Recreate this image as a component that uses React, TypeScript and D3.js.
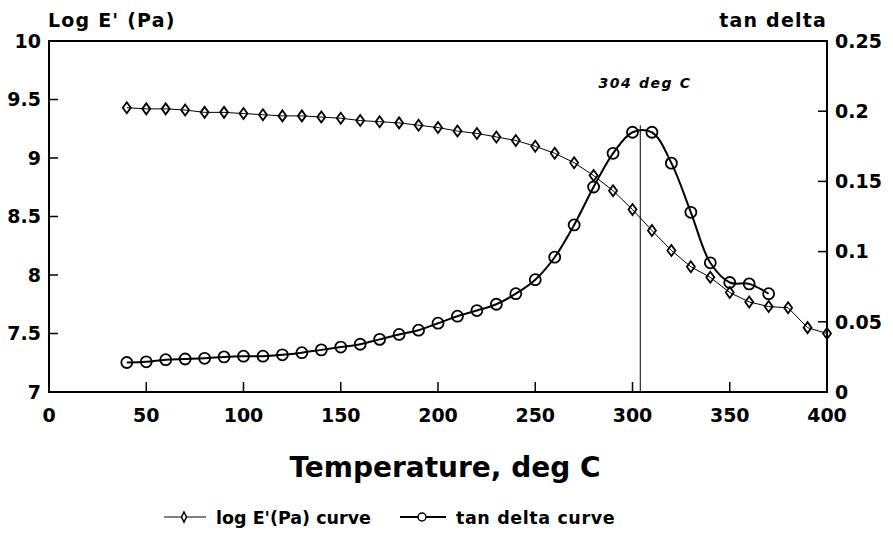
import React from "react";
import * as d3 from "d3";

// Storage modulus (log E', Pa) sampled every 10 deg C
const modTemps = [40, 50, 60, 70, 80, 90, 100, 110, 120, 130, 140, 150, 160, 170, 180, 190, 200, 210, 220, 230, 240, 250, 260, 270, 280, 290, 300, 310, 320, 330, 340, 350, 360, 370, 380, 390, 400];
const logE = [9.43, 9.42, 9.42, 9.41, 9.39, 9.39, 9.38, 9.37, 9.36, 9.36, 9.35, 9.34, 9.32, 9.31, 9.3, 9.28, 9.26, 9.23, 9.21, 9.18, 9.15, 9.1, 9.04, 8.96, 8.85, 8.72, 8.56, 8.38, 8.21, 8.07, 7.98, 7.85, 7.77, 7.73, 7.72, 7.55, 7.5];

// Loss tangent
const tanTemps = [40, 50, 60, 70, 80, 90, 100, 110, 120, 130, 140, 150, 160, 170, 180, 190, 200, 210, 220, 230, 240, 250, 260, 270, 280, 290, 300, 310, 320, 330, 340, 350, 360, 370];
const tanDelta = [0.021, 0.0215, 0.023, 0.0235, 0.024, 0.025, 0.0255, 0.0255, 0.0265, 0.028, 0.03, 0.032, 0.034, 0.0375, 0.041, 0.044, 0.049, 0.054, 0.058, 0.0625, 0.07, 0.08, 0.096, 0.119, 0.146, 0.17, 0.185, 0.185, 0.163, 0.128, 0.092, 0.078, 0.077, 0.07];

const xTicks = [0, 50, 100, 150, 200, 250, 300, 350, 400];
const leftTicks = [7, 7.5, 8, 8.5, 9, 9.5, 10];
const rightTicks = [0, 0.05, 0.1, 0.15, 0.2, 0.25];
const peakTemp = 304;
const peakTan = 0.19;

const W = 893;
const H = 540;
const M = { left: 49, right: 827, top: 41, bottom: 392 };
const FONT = "'DejaVu Sans', Verdana, sans-serif";

export default function App() {
  const x = d3.scaleLinear().domain([0, 400]).range([M.left, M.right]);
  const yL = d3.scaleLinear().domain([7, 10]).range([M.bottom, M.top]);
  const yR = d3.scaleLinear().domain([0, 0.25]).range([M.bottom, M.top]);

  const modPts: [number, number][] = modTemps.map((t, i) => [x(t), yL(logE[i])]);
  const tanPts: [number, number][] = tanTemps.map((t, i) => [x(t), yR(tanDelta[i])]);

  const modLine = d3.line().curve(d3.curveLinear)(modPts) || "";
  const tanLine = d3.line().curve(d3.curveCatmullRom.alpha(0.5))(tanPts) || "";

  const diamond = (cx: number, cy: number, w: number, h: number) =>
    `M${cx},${cy - h / 2}L${cx + w / 2},${cy}L${cx},${cy + h / 2}L${cx - w / 2},${cy}Z`;

  const fmtL = (v: number) => (Number.isInteger(v) ? String(v) : v.toFixed(1));
  const fmtR = (v: number) => (v === 0 ? "0" : String(v));

  return (
    <div style={{ position: "absolute", left: 0, top: 0 }}>
      <svg width={W} height={H} style={{ display: "block", background: "#fff" }} fontFamily={FONT}>
        {/* frame */}
        <rect x={M.left} y={M.top} width={M.right - M.left} height={M.bottom - M.top} fill="none" stroke="#000" strokeWidth={2} />

        {/* left axis ticks */}
        {leftTicks.map((v) => (
          <g key={"l" + v}>
            {v !== 7 && v !== 10 && <line x1={M.left} x2={M.left + 9} y1={yL(v)} y2={yL(v)} stroke="#000" strokeWidth={1.5} />}
            <text x={41} y={yL(v)} dy="0.36em" textAnchor="end" fontSize={19} fontWeight="bold">{fmtL(v)}</text>
          </g>
        ))}

        {/* right axis ticks */}
        {rightTicks.map((v) => (
          <g key={"r" + v}>
            {v !== 0 && v !== 0.25 && <line x1={M.right - 9} x2={M.right} y1={yR(v)} y2={yR(v)} stroke="#000" strokeWidth={1.5} />}
            <text x={835} y={yR(v)} dy="0.36em" textAnchor="start" fontSize={19} fontWeight="bold">{fmtR(v)}</text>
          </g>
        ))}

        {/* bottom axis ticks */}
        {xTicks.map((v) => (
          <g key={"x" + v}>
            {v !== 0 && v !== 400 && <line x1={x(v)} x2={x(v)} y1={M.bottom - 10} y2={M.bottom} stroke="#000" strokeWidth={1.5} />}
            <text x={x(v)} y={422} textAnchor="middle" fontSize={19} fontWeight="bold">{v}</text>
          </g>
        ))}

        {/* axis titles */}
        <text x={48} y={27} fontSize={19} fontWeight="bold" letterSpacing={1.2}>Log E' (Pa)</text>
        <text x={827} y={27} textAnchor="end" fontSize={19} fontWeight="bold" letterSpacing={1.2}>tan delta</text>
        <text x={445} y={477} textAnchor="middle" fontSize={28} fontWeight="bold">Temperature, deg C</text>

        {/* glass transition marker */}
        <line x1={x(peakTemp)} x2={x(peakTemp)} y1={yR(peakTan)} y2={M.bottom} stroke="#000" strokeWidth={1} />
        <text x={645} y={88} textAnchor="middle" fontSize={14} fontWeight="bold" fontStyle="italic" letterSpacing={1.6}>304 deg C</text>

        {/* log E' series */}
        <path d={modLine} fill="none" stroke="#000" strokeWidth={1} />
        {modPts.map(([cx, cy], i) => (
          <path key={"d" + i} d={diamond(cx, cy, 8, 11)} fill="none" stroke="#000" strokeWidth={1.8} />
        ))}

        {/* tan delta series */}
        <path d={tanLine} fill="none" stroke="#000" strokeWidth={2} />
        {tanPts.map(([cx, cy], i) => (
          <circle key={"c" + i} cx={cx} cy={cy} r={5.5} fill="none" stroke="#000" strokeWidth={1.8} />
        ))}

        {/* legend */}
        <g>
          <line x1={164} x2={206} y1={517} y2={517} stroke="#000" strokeWidth={1} />
          <path d={diamond(184, 517, 5, 10)} fill="#fff" stroke="#000" strokeWidth={1.5} />
          <text x={216} y={524} fontSize={17.5} fontWeight="bold">log E'(Pa) curve</text>
          <line x1={400} x2={446} y1={517} y2={517} stroke="#000" strokeWidth={2} />
          <circle cx={422} cy={517} r={4} fill="#fff" stroke="#000" strokeWidth={1.5} />
          <text x={456} y={524} fontSize={17.5} fontWeight="bold" letterSpacing={0.6}>tan delta curve</text>
        </g>
      </svg>
    </div>
  );
}
